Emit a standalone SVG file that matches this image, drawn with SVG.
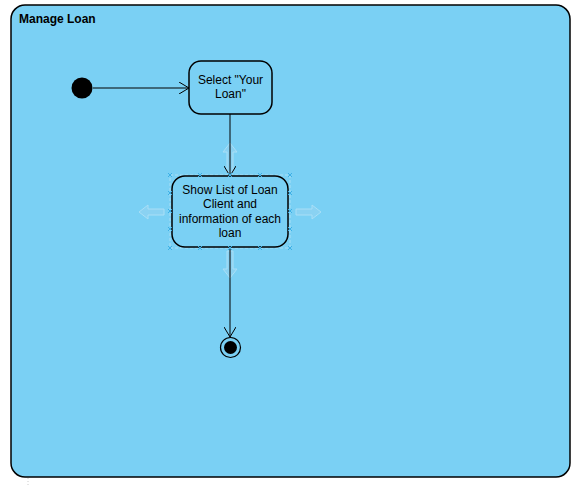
<svg xmlns="http://www.w3.org/2000/svg" width="588" height="486" viewBox="0 0 588 486">
<style>
.t{font-family:"Liberation Sans",Arial,sans-serif;font-size:12px;fill:#000;text-anchor:middle}
.node{fill:#7ad0f4;stroke:#000;stroke-width:1.5}
.conn{stroke:#000;stroke-width:1;fill:none}
.hint{fill:#8fd3f2;stroke:#b5e3f8;stroke-width:1;opacity:0.8}
.h{stroke:#3db0e6;stroke-width:1}
</style>
<defs>
<marker id="open" markerWidth="12" markerHeight="12" refX="10" refY="6" orient="auto" markerUnits="userSpaceOnUse">
<path d="M0,0 L10,6 L0,12" fill="none" stroke="#000" stroke-width="1"/>
</marker>
</defs>
<rect width="588" height="486" fill="#fff"/>
<line x1="28" y1="478" x2="28" y2="486" stroke="#ccc" stroke-dasharray="1,2"/>
<g id="frame">
<rect x="11" y="5" width="559" height="472" rx="14" fill="#7ad0f4" stroke="#000" stroke-width="1.5"/>
<text x="19" y="23" style="font-family:'Liberation Sans',Arial,sans-serif;font-size:12px;font-weight:bold">Manage Loan</text>
</g>
<g id="hints">
<path class="hint" d="M230,143 L237,152 L233,152 L233,172 L227,172 L227,152 L223,152 Z"/>
<path class="hint" d="M230,278 L237,269 L233,269 L233,251 L227,251 L227,269 L223,269 Z"/>
<path class="hint" d="M139,212 L148,205 L148,209 L164,209 L164,215 L148,215 L148,219 Z"/>
<path class="hint" d="M321,212 L312,205 L312,209 L296,209 L296,215 L312,215 L312,219 Z"/>
</g>
<g id="connectors">
<line class="conn" x1="93" y1="88" x2="189" y2="88" marker-end="url(#open)"/>
<line class="conn" x1="230" y1="114" x2="230" y2="176" marker-end="url(#open)"/>
<line class="conn" x1="230" y1="248" x2="230" y2="337" marker-end="url(#open)"/>
</g>
<g id="initial">
<circle cx="82" cy="88" r="10.5" fill="#000"/>
</g>
<g id="select">
<rect class="node" x="189" y="61" width="83" height="53" rx="12"/>
<text class="t" x="230.5" y="84">Select "Your</text>
<text class="t" x="230.5" y="98">Loan"</text>
</g>
<g id="showList">
<rect x="170" y="175" width="120" height="73" fill="none" stroke="#b5e3f8" stroke-dasharray="3,2" stroke-width="0.8"/>
<rect class="node" x="172" y="176" width="116" height="71" rx="13"/>
<g class="h">
<path d="M168,173 l4,4 m0,-4 l-4,4 M198,173 l4,4 m0,-4 l-4,4 M228,173 l4,4 m0,-4 l-4,4 M258,173 l4,4 m0,-4 l-4,4 M288,173 l4,4 m0,-4 l-4,4"/>
<path d="M168,246 l4,4 m0,-4 l-4,4 M198,246 l4,4 m0,-4 l-4,4 M228,246 l4,4 m0,-4 l-4,4 M258,246 l4,4 m0,-4 l-4,4 M288,246 l4,4 m0,-4 l-4,4"/>
<path d="M168,191 l4,4 m0,-4 l-4,4 M168,209 l4,4 m0,-4 l-4,4 M168,227 l4,4 m0,-4 l-4,4"/>
<path d="M288,191 l4,4 m0,-4 l-4,4 M288,209 l4,4 m0,-4 l-4,4 M288,227 l4,4 m0,-4 l-4,4"/>
</g>
<text class="t" x="230" y="194">Show List of Loan</text>
<text class="t" x="230" y="208">Client and</text>
<text class="t" x="230" y="223">information of each</text>
<text class="t" x="230" y="237">loan</text>
</g>
<g id="final">
<circle cx="230.5" cy="347.5" r="10" fill="none" stroke="#000" stroke-width="1.2"/>
<circle cx="230.5" cy="347.5" r="6.5" fill="#000"/>
</g>
</svg>
